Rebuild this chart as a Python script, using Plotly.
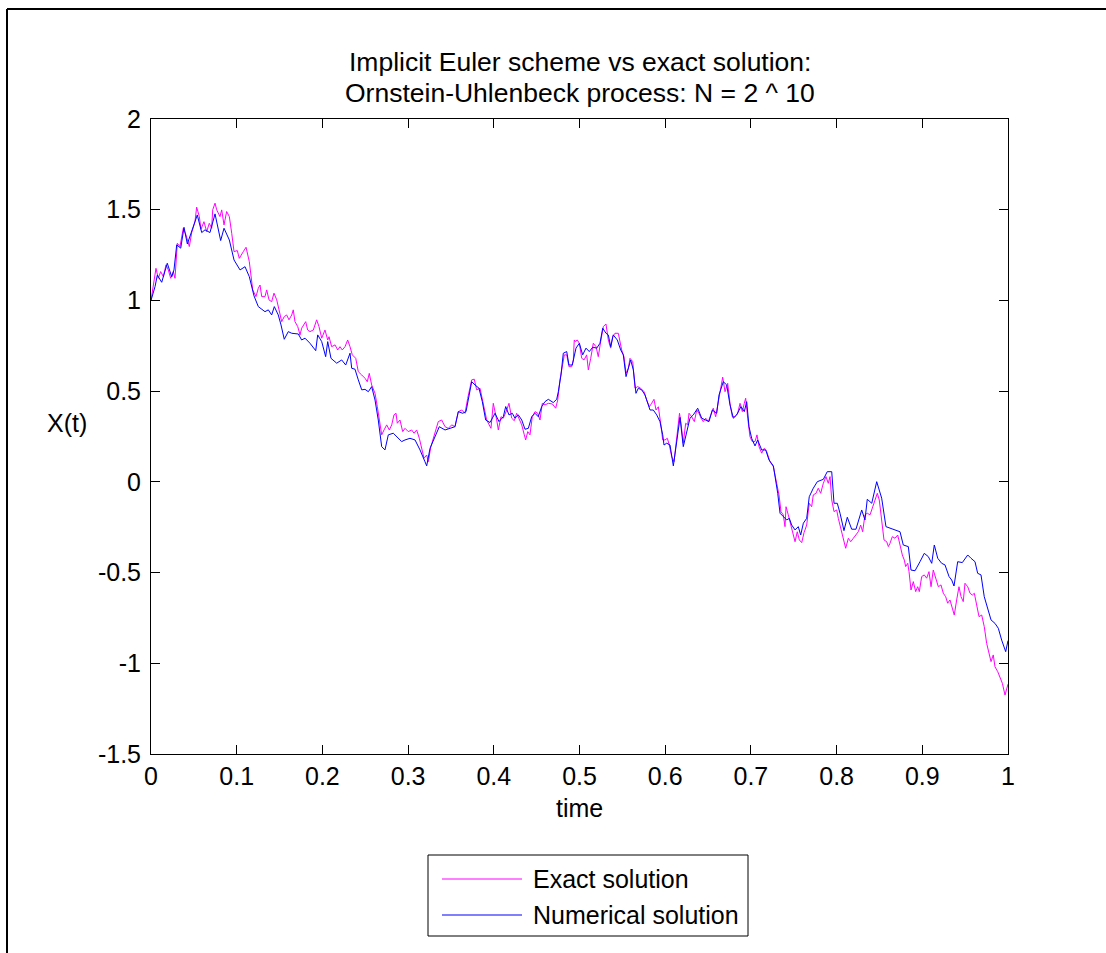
import plotly.graph_objects as go

# Exact Ornstein-Uhlenbeck path (fine grid)
t_exact = [
    0.0, 0.0027, 0.0058, 0.0085, 0.0113, 0.0144, 0.0175, 0.0202, 0.0230, 0.0260,
    0.0280, 0.0307, 0.0338, 0.0377, 0.0408, 0.0447, 0.0475, 0.0513, 0.0533, 0.0564,
    0.0583, 0.0618, 0.0650, 0.0680, 0.0708, 0.0720, 0.0747, 0.0767, 0.0805, 0.0825,
    0.0852, 0.0883, 0.0914, 0.0942, 0.0969, 0.1007, 0.1030, 0.1077, 0.1109, 0.1147,
    0.1187, 0.1225, 0.1252, 0.1272, 0.1292, 0.1330, 0.1350, 0.1377, 0.1408, 0.1435,
    0.1467, 0.1494, 0.1525, 0.1555, 0.1583, 0.1610, 0.1642, 0.1660, 0.1680, 0.1712,
    0.1739, 0.1758, 0.1805, 0.1828, 0.1855, 0.1894, 0.1933, 0.1960, 0.1992, 0.2030,
    0.2062, 0.2077, 0.2108, 0.2147, 0.2179, 0.2205, 0.2232, 0.2264, 0.2295, 0.2322,
    0.2349, 0.2389, 0.2419, 0.2459, 0.2497, 0.2524, 0.2547, 0.2575, 0.2614, 0.2641,
    0.2672, 0.2692, 0.2719, 0.2750, 0.2781, 0.2809, 0.2835, 0.2859, 0.2874, 0.2905,
    0.2937, 0.2964, 0.3002, 0.3042, 0.3069, 0.3100, 0.3131, 0.3159, 0.3186, 0.3217,
    0.3236, 0.3264, 0.3302, 0.3352, 0.3392, 0.3431, 0.3469, 0.3509, 0.3547, 0.3586,
    0.3626, 0.3664, 0.3695, 0.3722, 0.3742, 0.3772, 0.3800, 0.3839, 0.3878, 0.3917,
    0.3967, 0.3994, 0.4034, 0.4053, 0.4084, 0.4111, 0.4151, 0.4177, 0.4209, 0.4239,
    0.4267, 0.4294, 0.4326, 0.4356, 0.4372, 0.4396, 0.4422, 0.4449, 0.4481, 0.4512,
    0.4539, 0.4566, 0.4597, 0.4636, 0.4683, 0.4722, 0.4746, 0.4772, 0.4799, 0.4823,
    0.4851, 0.4877, 0.4909, 0.4928, 0.4939, 0.4948, 0.4974, 0.4998, 0.5026, 0.5053,
    0.5084, 0.5103, 0.5131, 0.5161, 0.5193, 0.5219, 0.5247, 0.5278, 0.5309, 0.5336,
    0.5364, 0.5387, 0.5414, 0.5453, 0.5492, 0.5519, 0.5543, 0.5570, 0.5589, 0.5621,
    0.5648, 0.5679, 0.5714, 0.5753, 0.5784, 0.5815, 0.5842, 0.5869, 0.5893, 0.5920,
    0.5947, 0.5971, 0.5998, 0.6025, 0.6048, 0.6076, 0.6103, 0.6126, 0.6167, 0.6184,
    0.6211, 0.6239, 0.6262, 0.6278, 0.6309, 0.6340, 0.6368, 0.6394, 0.6418, 0.6445,
    0.6473, 0.6503, 0.6534, 0.6561, 0.6589, 0.6620, 0.6651, 0.6671, 0.6698, 0.6729,
    0.6756, 0.6783, 0.6814, 0.6846, 0.6873, 0.6900, 0.6923, 0.6939, 0.6963, 0.6989,
    0.7016, 0.7048, 0.7071, 0.7095, 0.7126, 0.7156, 0.7184, 0.7223, 0.7262, 0.7290,
    0.7301, 0.7328, 0.7351, 0.7378, 0.7398, 0.7410, 0.7436, 0.7465, 0.7495, 0.7515,
    0.7541, 0.7565, 0.7593, 0.7620, 0.7651, 0.7681, 0.7709, 0.7728, 0.7760, 0.7786,
    0.7814, 0.7845, 0.7876, 0.7903, 0.7923, 0.7943, 0.7970, 0.8001, 0.8020, 0.8048,
    0.8078, 0.8106, 0.8137, 0.8165, 0.8195, 0.8226, 0.8253, 0.8281, 0.8304, 0.8331,
    0.8358, 0.8390, 0.8421, 0.8448, 0.8475, 0.8498, 0.8526, 0.8553, 0.8585, 0.8604,
    0.8623, 0.8650, 0.8681, 0.8713, 0.8740, 0.8767, 0.8790, 0.8806, 0.8830, 0.8845,
    0.8868, 0.8895, 0.8923, 0.8946, 0.8965, 0.8993, 0.9023, 0.9051, 0.9078, 0.9102,
    0.9128, 0.9156, 0.9187, 0.9218, 0.9245, 0.9273, 0.9296, 0.9323, 0.9350, 0.9373,
    0.9401, 0.9428, 0.9452, 0.9478, 0.9498, 0.9530, 0.9557, 0.9584, 0.9607, 0.9635,
    0.9662, 0.9693, 0.9723, 0.9751, 0.9778, 0.9802, 0.9828, 0.9848, 0.9880, 0.9907,
    0.9934, 0.9965, 0.9996, 1.0,
]
x_exact = [
    1.000, 1.076, 1.177, 1.122, 1.159, 1.131, 1.196, 1.168, 1.122, 1.159,
    1.122, 1.315, 1.297, 1.398, 1.361, 1.297, 1.374, 1.434, 1.514, 1.462,
    1.392, 1.434, 1.379, 1.425, 1.398, 1.499, 1.536, 1.499, 1.462, 1.499,
    1.416, 1.490, 1.462, 1.370, 1.269, 1.275, 1.232, 1.269, 1.293, 1.214,
    1.058, 1.021, 1.067, 1.085, 1.021, 1.021, 1.058, 1.003, 0.993, 1.040,
    1.003, 0.948, 0.883, 0.911, 0.920, 0.893, 0.920, 0.948, 0.883, 0.856,
    0.810, 0.847, 0.883, 0.837, 0.828, 0.837, 0.893, 0.856, 0.792, 0.837,
    0.782, 0.800, 0.745, 0.755, 0.727, 0.745, 0.727, 0.745, 0.782, 0.745,
    0.700, 0.681, 0.607, 0.589, 0.571, 0.552, 0.598, 0.534, 0.488, 0.414,
    0.314, 0.259, 0.286, 0.314, 0.286, 0.314, 0.369, 0.378, 0.323, 0.341,
    0.277, 0.295, 0.277, 0.286, 0.268, 0.286, 0.240, 0.176, 0.130, 0.148,
    0.111, 0.191, 0.249, 0.332, 0.341, 0.304, 0.295, 0.314, 0.304, 0.387,
    0.396, 0.378, 0.460, 0.520, 0.562, 0.566, 0.507, 0.516, 0.433, 0.341,
    0.295, 0.433, 0.341, 0.286, 0.359, 0.351, 0.396, 0.433, 0.351, 0.337,
    0.378, 0.351, 0.314, 0.259, 0.231, 0.277, 0.259, 0.359, 0.387, 0.378,
    0.341, 0.433, 0.424, 0.433, 0.429, 0.406, 0.451, 0.562, 0.635, 0.700,
    0.700, 0.635, 0.635, 0.672, 0.782, 0.773, 0.782, 0.764, 0.681, 0.672,
    0.700, 0.617, 0.681, 0.764, 0.745, 0.690, 0.773, 0.856, 0.870, 0.782,
    0.737, 0.800, 0.819, 0.819, 0.727, 0.690, 0.599, 0.626, 0.681, 0.663,
    0.516, 0.525, 0.516, 0.497, 0.451, 0.414, 0.433, 0.455, 0.396, 0.414,
    0.323, 0.231, 0.231, 0.240, 0.203, 0.139, 0.111, 0.222, 0.378, 0.323,
    0.213, 0.323, 0.314, 0.378, 0.359, 0.332, 0.396, 0.378, 0.351, 0.332,
    0.351, 0.332, 0.378, 0.406, 0.359, 0.451, 0.534, 0.577, 0.497, 0.543,
    0.433, 0.359, 0.359, 0.378, 0.433, 0.387, 0.433, 0.461, 0.351, 0.249,
    0.222, 0.222, 0.259, 0.194, 0.158, 0.185, 0.167, 0.111, 0.084, 0.020,
    -0.017, -0.072, -0.164, -0.182, -0.247, -0.137, -0.182, -0.238, -0.283, -0.330,
    -0.275, -0.320, -0.335, -0.280, -0.238, -0.118, -0.137, -0.072, -0.063, -0.035,
    -0.063, -0.008, 0.029, -0.008, 0.029, -0.100, -0.164, -0.155, -0.201, -0.256,
    -0.320, -0.366, -0.311, -0.330, -0.311, -0.293, -0.275, -0.238, -0.275, -0.182,
    -0.173, -0.182, -0.137, -0.109, -0.063, -0.100, -0.219, -0.320, -0.330, -0.357,
    -0.339, -0.302, -0.311, -0.293, -0.348, -0.403, -0.431, -0.467, -0.449, -0.495,
    -0.596, -0.550, -0.605, -0.578, -0.605, -0.522, -0.513, -0.531, -0.495, -0.578,
    -0.486, -0.531, -0.578, -0.568, -0.614, -0.633, -0.669, -0.651, -0.697, -0.734,
    -0.651, -0.578, -0.633, -0.660, -0.559, -0.578, -0.614, -0.624, -0.614, -0.679,
    -0.743, -0.734, -0.798, -0.890, -0.945, -0.991, -0.954, -1.019, -1.046, -1.083,
    -1.110, -1.175, -1.120, -1.115,
]

# Implicit Euler approximation (coarse grid)
t_num = [
    0.0, 0.0047, 0.0074, 0.0125, 0.0190, 0.0242, 0.0268, 0.0300, 0.0347, 0.0385,
    0.0424, 0.0475, 0.0540, 0.0592, 0.0630, 0.0688, 0.0747, 0.0813, 0.0852, 0.0914,
    0.0969, 0.1039, 0.1097, 0.1147, 0.1202, 0.1252, 0.1292, 0.1330, 0.1369, 0.1408,
    0.1439, 0.1485, 0.1517, 0.1555, 0.1602, 0.1642, 0.1719, 0.1758, 0.1797, 0.1855,
    0.1922, 0.1945, 0.1992, 0.2038, 0.2062, 0.2100, 0.2167, 0.2225, 0.2272, 0.2322,
    0.2342, 0.2380, 0.2419, 0.2459, 0.2497, 0.2536, 0.2575, 0.2614, 0.2652, 0.2692,
    0.2730, 0.2769, 0.2827, 0.2867, 0.2925, 0.2964, 0.3022, 0.3081, 0.3139, 0.3197,
    0.3217, 0.3256, 0.3314, 0.3364, 0.3431, 0.3489, 0.3547, 0.3586, 0.3637, 0.3676,
    0.3702, 0.3742, 0.3781, 0.3827, 0.3866, 0.3905, 0.3956, 0.4014, 0.4061, 0.4111,
    0.4139, 0.4177, 0.4216, 0.4247, 0.4286, 0.4326, 0.4364, 0.4403, 0.4442, 0.4481,
    0.4519, 0.4559, 0.4597, 0.4636, 0.4694, 0.4734, 0.4753, 0.4784, 0.4811, 0.4851,
    0.4877, 0.4916, 0.4959, 0.4998, 0.5037, 0.5076, 0.5114, 0.5154, 0.5201, 0.5239,
    0.5271, 0.5309, 0.5336, 0.5364, 0.5394, 0.5441, 0.5481, 0.5511, 0.5543, 0.5570,
    0.5597, 0.5628, 0.5659, 0.5686, 0.5726, 0.5764, 0.5791, 0.5823, 0.5861, 0.5901,
    0.5939, 0.5971, 0.5986, 0.6017, 0.6056, 0.6095, 0.6134, 0.6173, 0.6211, 0.6251,
    0.6289, 0.6328, 0.6379, 0.6426, 0.6473, 0.6511, 0.6550, 0.6601, 0.6628, 0.6678,
    0.6718, 0.6756, 0.6795, 0.6834, 0.6884, 0.6923, 0.6951, 0.6978, 0.7009, 0.7048,
    0.7079, 0.7126, 0.7173, 0.7211, 0.7262, 0.7290, 0.7313, 0.7340, 0.7386, 0.7418,
    0.7448, 0.7476, 0.7515, 0.7553, 0.7581, 0.7612, 0.7651, 0.7681, 0.7728, 0.7775,
    0.7845, 0.7891, 0.7943, 0.7970, 0.8008, 0.8040, 0.8086, 0.8125, 0.8176, 0.8226,
    0.8293, 0.8331, 0.8358, 0.8410, 0.8468, 0.8526, 0.8576, 0.8623, 0.8740, 0.8778,
    0.8837, 0.8868, 0.8915, 0.8973, 0.9023, 0.9070, 0.9110, 0.9140, 0.9180, 0.9226,
    0.9265, 0.9312, 0.9343, 0.9370, 0.9413, 0.9467, 0.9530, 0.9568, 0.9615, 0.9646,
    0.9685, 0.9723, 0.9763, 0.9802, 0.9848, 0.9887, 0.9926, 0.9973, 1.0,
]
x_num = [
    1.000, 1.076, 1.140, 1.100, 1.205, 1.130, 1.168, 1.306, 1.288, 1.403,
    1.311, 1.380, 1.471, 1.374, 1.389, 1.374, 1.477, 1.330, 1.398, 1.333,
    1.223, 1.168, 1.186, 1.131, 1.025, 0.966, 0.951, 0.938, 0.948, 0.920,
    0.966, 0.920, 0.865, 0.786, 0.828, 0.819, 0.815, 0.782, 0.792, 0.764,
    0.723, 0.810, 0.773, 0.690, 0.773, 0.681, 0.654, 0.672, 0.644, 0.709,
    0.626, 0.621, 0.562, 0.507, 0.510, 0.497, 0.525, 0.451, 0.341, 0.194,
    0.176, 0.259, 0.268, 0.249, 0.222, 0.231, 0.240, 0.231, 0.176, 0.111,
    0.088, 0.185, 0.246, 0.304, 0.286, 0.295, 0.304, 0.387, 0.378, 0.387,
    0.451, 0.552, 0.534, 0.516, 0.442, 0.341, 0.327, 0.378, 0.332, 0.359,
    0.415, 0.369, 0.378, 0.351, 0.369, 0.341, 0.290, 0.295, 0.359, 0.378,
    0.359, 0.415, 0.442, 0.455, 0.437, 0.455, 0.497, 0.589, 0.709, 0.718,
    0.644, 0.644, 0.737, 0.764, 0.700, 0.737, 0.718, 0.742, 0.737, 0.764,
    0.847, 0.819, 0.810, 0.745, 0.810, 0.782, 0.727, 0.700, 0.580, 0.635,
    0.672, 0.617, 0.488, 0.516, 0.507, 0.479, 0.442, 0.396, 0.396, 0.369,
    0.332, 0.259, 0.203, 0.213, 0.203, 0.088, 0.220, 0.355, 0.194, 0.277,
    0.351, 0.369, 0.406, 0.351, 0.341, 0.332, 0.396, 0.378, 0.479, 0.552,
    0.534, 0.424, 0.351, 0.369, 0.415, 0.387, 0.442, 0.304, 0.240, 0.198,
    0.231, 0.176, 0.176, 0.121, 0.088, 0.010, -0.063, -0.173, -0.192, -0.210,
    -0.201, -0.238, -0.265, -0.247, -0.293, -0.228, -0.201, -0.082, -0.035, 0.001,
    0.014, 0.056, 0.056, -0.118, -0.118, -0.173, -0.269, -0.195, -0.261, -0.261,
    -0.155, -0.210, -0.096, -0.118, 0.001, -0.090, -0.247, -0.256, -0.275, -0.348,
    -0.357, -0.486, -0.490, -0.440, -0.394, -0.412, -0.449, -0.348, -0.421, -0.449,
    -0.458, -0.522, -0.541, -0.574, -0.440, -0.445, -0.403, -0.421, -0.440, -0.504,
    -0.513, -0.633, -0.706, -0.761, -0.780, -0.807, -0.872, -0.936, -0.875,
]

x_ticks = [0, 0.1, 0.2, 0.3, 0.4, 0.5, 0.6, 0.7, 0.8, 0.9, 1]
x_tick_text = ["0", "0.1", "0.2", "0.3", "0.4", "0.5", "0.6", "0.7", "0.8", "0.9", "1"]
y_ticks = [-1.5, -1, -0.5, 0, 0.5, 1, 1.5, 2]
y_tick_text = ["-1.5", "-1", "-0.5", "0", "0.5", "1", "1.5", "2"]

series_names = ["Exact solution", "Numerical solution"]
series_colors = ["#FF00FF", "#0000FF"]

FONT = "Arial, Liberation Sans, Helvetica, sans-serif"
FS = 25
FS_TITLE = 26.5

fig = go.Figure()
fig.add_trace(go.Scatter(x=t_exact, y=x_exact, mode="lines", name=series_names[0],
                         line=dict(color=series_colors[0], width=1), showlegend=False))
fig.add_trace(go.Scatter(x=t_num, y=x_num, mode="lines", name=series_names[1],
                         line=dict(color=series_colors[1], width=1), showlegend=False))

axis_common = dict(
    showgrid=False, zeroline=False, showline=True, linecolor="black", linewidth=1,
    mirror="allticks", ticks="inside", ticklen=9, tickwidth=1, tickcolor="black",
    tickfont=dict(family=FONT, size=FS, color="black"),
)
fig.update_xaxes(range=[0, 1], tickvals=x_ticks, ticktext=x_tick_text,
                 ticklabelstandoff=0, **axis_common)
fig.update_yaxes(range=[-1.5, 2], tickvals=y_ticks, ticktext=y_tick_text,
                 ticklabelstandoff=4, **axis_common)

W, H = 1106, 953
L, R, T, B = 151, 98, 119, 199


def px(xp):
    return (xp - L) / (W - L - R)


def py(yp):
    return (H - B - yp) / (H - T - B)


annotations = [
    dict(text="Implicit Euler scheme vs exact solution:", x=0.5, y=py(62), size=FS_TITLE),
    dict(text="Ornstein-Uhlenbeck process: N = 2 ^ 10", x=0.5, y=py(93), size=FS_TITLE),
    dict(text="time", x=0.5, y=py(808), size=FS),
    dict(text="X(t)", x=px(67), y=py(423), size=FS),
]
for a in annotations:
    size = a.pop("size")
    a.update(xref="paper", yref="paper", showarrow=False, xanchor="center", yanchor="middle",
             font=dict(family=FONT, size=size, color="black"))

# Boxed legend with long line samples
leg_x0, leg_x1, leg_y0, leg_y1 = px(428), px(748), py(936), py(855)
shapes = [
    dict(type="rect", xref="paper", yref="paper", x0=leg_x0, x1=leg_x1, y0=leg_y0, y1=leg_y1,
         line=dict(color="black", width=1), fillcolor="white"),
    # figure frame edges
    dict(type="line", xref="paper", yref="paper", x0=px(7), x1=px(1106), y0=py(9), y1=py(9),
         line=dict(color="black", width=2)),
    dict(type="line", xref="paper", yref="paper", x0=px(7), x1=px(7), y0=py(9), y1=py(953),
         line=dict(color="black", width=2)),
]
for name, color, yrow in zip(series_names, series_colors, [879, 915]):
    shapes.append(dict(type="line", xref="paper", yref="paper", x0=px(442), x1=px(522),
                       y0=py(yrow), y1=py(yrow), line=dict(color=color, width=1)))
    annotations.append(dict(text=name, xref="paper", yref="paper", x=px(531), y=py(yrow),
                            xanchor="left", yanchor="middle", showarrow=False,
                            font=dict(family=FONT, size=FS, color="black")))

fig.update_layout(
    width=W, height=H, autosize=False,
    margin=dict(l=L, r=R, t=T, b=B),
    paper_bgcolor="white", plot_bgcolor="white",
    annotations=annotations, shapes=shapes,
    showlegend=False,
)

fig.write_html("out.html")
